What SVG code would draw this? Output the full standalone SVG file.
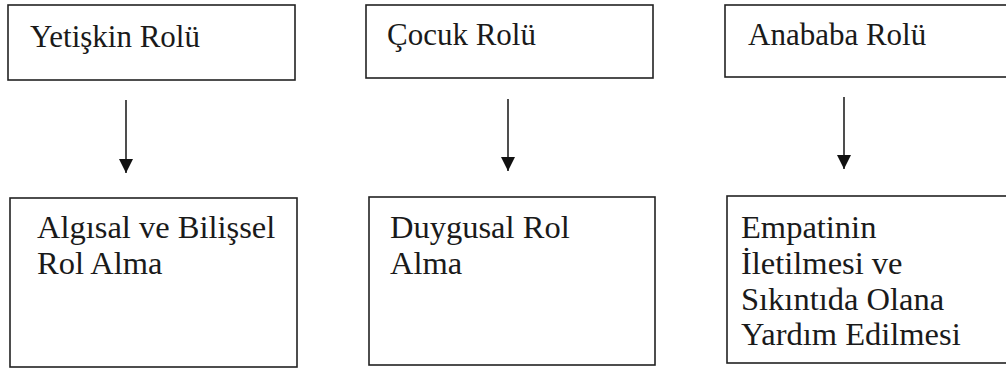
<svg xmlns="http://www.w3.org/2000/svg" width="1006" height="372" viewBox="0 0 1006 372">
<defs>
<style>
.box{fill:#fff;stroke:#222;stroke-width:1.6}
.t{font-family:'Liberation Serif','Times New Roman',Times,Tinos,'Noto Serif','DejaVu Serif',serif;font-size:31px;fill:#1a1a1a}
.b{font-size:32.5px}
.c{stroke:#222;stroke-width:1.6;fill:none}
</style>
<marker id="ah2" markerUnits="userSpaceOnUse" markerWidth="14" markerHeight="16" refX="14" refY="7" orient="auto" viewBox="0 0 14 14">
<path d="M0,0 L14,7 L0,14 Z" fill="#111"/>
</marker>
</defs>
<rect width="1006" height="372" fill="#fff"/>
<g id="n1"><rect class="box" x="8" y="5" width="287" height="75"/><text class="t" x="30" y="47">Yetişkin Rolü</text></g>
<g id="n2"><rect class="box" x="366" y="5" width="287" height="73"/><text class="t" x="387" y="45">Çocuk Rolü</text></g>
<g id="n3"><rect class="box" x="725" y="5" width="300" height="72"/><text class="t" x="748" y="45">Anababa Rolü</text></g>
<g id="n4"><rect class="box" x="10" y="198" width="287" height="169"/><text class="t b" x="37" y="238">Algısal ve Bilişsel</text><text class="t b" x="37" y="274">Rol Alma</text></g>
<g id="n5"><rect class="box" x="369" y="197" width="286" height="168"/><text class="t b" x="390" y="238">Duygusal Rol</text><text class="t b" x="390" y="274">Alma</text></g>
<g id="n6"><rect class="box" x="727" y="196" width="300" height="167"/><text class="t b" x="741" y="238">Empatinin</text><text class="t b" x="741" y="274">İletilmesi ve</text><text class="t b" x="741" y="310">Sıkıntıda Olana</text><text class="t b" x="741" y="345">Yardım Edilmesi</text></g>
<g id="connectors">
<line class="c" x1="126" y1="100" x2="126" y2="173" marker-end="url(#ah2)"/>
<line class="c" x1="508" y1="99" x2="508" y2="171" marker-end="url(#ah2)"/>
<line class="c" x1="844" y1="97" x2="844" y2="169" marker-end="url(#ah2)"/>
</g>
</svg>
